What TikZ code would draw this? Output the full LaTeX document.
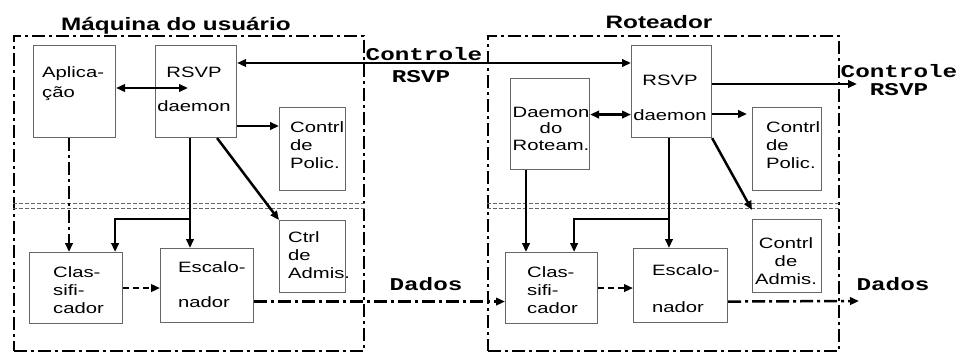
\documentclass[tikz,border=0pt]{standalone}
\usepackage{fontspec}
\usetikzlibrary{arrows.meta,calc}
\newfontfamily\bxf[FakeStretch=1.35]{Liberation Sans}
\newfontfamily\ttf[FakeStretch=1.35]{Liberation Mono}
\newcommand\mybox[5]{\node[bx,minimum width={(#4-#2)*1pt},minimum height={(#5-#3)*1pt}] (#1) at (#2,#3) {};}
\begin{document}
\begin{tikzpicture}[x=1pt,y=-1pt,
  bx/.style={draw=black!60,line width=1.1pt,anchor=north west,inner sep=0pt},
  outer/.style={draw=black,line width=2.3pt,anchor=north west,inner sep=0pt,dash pattern=on 13pt off 4pt on 3pt off 4pt},
  sep/.style={draw=black!60,line width=1pt,dash pattern=on 4pt off 2pt},
  txt/.style={font=\bxf\fontsize{15}{18}\selectfont,inner sep=0pt,align=left},
  ctxt/.style={font=\bxf\fontsize{15}{18}\selectfont,inner sep=0pt,align=center},
  tt/.style={font=\ttf\bfseries\fontsize{18}{20}\selectfont,inner sep=0pt,anchor=base},
  ttl/.style={font=\bxf\bfseries\fontsize{18}{20}\selectfont,inner sep=0pt,anchor=base},
  tip/.tip={Triangle[length=9pt,width=7.5pt]},
  arr/.style={line width=2.5pt,-tip},
  darr/.style={line width=2.5pt,tip-tip},
  dashar/.style={line width=2.5pt,-tip,dash pattern=on 6pt off 4pt},
  ddar/.style={line width=2.5pt,-tip,dash pattern=on 13pt off 4pt on 3pt off 4pt},
]
\useasboundingbox (0,0) rectangle (959,354);
% containers
\node[outer,minimum width=350pt,minimum height=315pt] (oL) at (13,35) {};
\node[outer,minimum width=351pt,minimum height=315pt] (oR) at (487,35) {};
\node[ttl] (tL) at (176,30) {Máquina do usuário};
\node[ttl] (tR) at (659,28) {Roteador};
\draw[sep] ($(oL.north west)+(0,168)$) coordinate (s1) -- (s1 -| oL.east);
\draw[sep] ($(oL.north west)+(0,173)$) coordinate (s2) -- (s2 -| oL.east);
\draw[sep] ($(oR.north west)+(0,168)$) coordinate (s3) -- (s3 -| oR.east);
\draw[sep] ($(oR.north west)+(0,173)$) coordinate (s4) -- (s4 -| oR.east);
% left boxes
\mybox{app}{33}{45}{115}{137}
\mybox{rsvpL}{155}{45}{236}{137}
\mybox{polL}{279}{107}{345}{190}
\mybox{admL}{279}{220}{345}{292}
\mybox{clsL}{29}{252}{122}{323}
\mybox{escL}{160}{248}{253}{322}
% right boxes
\mybox{rot}{510}{78}{589}{169}
\mybox{rsvpR}{631}{45}{711}{137}
\mybox{polR}{752}{107}{821}{190}
\mybox{admR}{752}{219}{821}{292}
\mybox{clsR}{505}{252}{597}{323}
\mybox{escR}{633}{248}{727}{322}
% texts left (base = baseline of the last line)
\node[txt,anchor=base west] (appT) at (42,97) {Aplica-\\[2pt]ção};
\node[ctxt,anchor=base] (rsvpLa) at (194,77) {RSVP};
\node[ctxt,anchor=base] (rsvpLb) at (194,111) {daemon};
\node[txt,anchor=base west] (polLT) at (290,168) {Contrl\\de\\Polic.};
\node[txt,anchor=base west] (admLT) at (288,278) {Ctrl\\de\\Admis.};
\node[txt,anchor=base west] (clsLT) at (53,313) {Clas-\\sifi-\\cador};
\node[txt,anchor=base west] (escLa) at (178,272) {Escalo-};
\node[txt,anchor=base west] (escLb) at (178,307) {nador};
% texts right
\node[ctxt,anchor=base,font=\bxf\fontsize{15}{16.5}\selectfont] (rotT) at (551,150) {Daemon\\do\\Roteam.};
\node[ctxt,anchor=base] (rsvpRa) at (670,85) {RSVP};
\node[ctxt,anchor=base] (rsvpRb) at (670,120) {daemon};
\node[txt,anchor=base west] (polRT) at (766,168) {Contrl\\de\\Polic.};
\node[ctxt,anchor=base] (admRT) at (786,284) {Contrl\\de\\Admis.};
\node[txt,anchor=base west] (clsRT) at (527,313) {Clas-\\sifi-\\cador};
\node[txt,anchor=base west] (escRa) at (652,275) {Escalo-};
\node[txt,anchor=base west] (escRb) at (652,312) {nador};
% labels
\node[tt] (ctl1) at (424,60) {Controle};
\node[tt] (ctl2) at (421,82) {RSVP};
\node[tt] (dad1) at (426,290) {Dados};
\node[tt] (ctl3) at (899,77) {Controle};
\node[tt] (ctl4) at (899,95) {RSVP};
\node[tt] (dad2) at (893,290) {Dados};
% connectors left
\draw[darr] ($(rsvpL.north east)+(0,18)$) coordinate (c1) -- (c1 -| rsvpR.west);
\draw[darr] ($(app.north east)+(0,43)$) -- ($(rsvpL.north west)+(33,43)$);
\draw[arr] ($(rsvpL.north east)+(0,81)$) coordinate (c3) -- (c3 -| polL.west);
\draw[arr] ($(rsvpL.south west)+(35,0)$) coordinate (c4) -- (c4 |- escL.north);
\draw[arr] ($(c4)+(0,81)$) -| ($(clsL.north east)+(-8,0)$);
\draw[arr] ($(rsvpL.south east)+(-20,0)$) -- (admL.north west);
\draw[ddar] ($(app.south west)+(36,0)$) coordinate (c6) -- (c6 |- clsL.north);
\draw[dashar] (clsL.east) -- (clsL.east -| escL.west);
\draw[ddar] ($(escL.east)+(0,16)$) coordinate (c8) -- (c8 -| clsR.west);
% connectors right
\coordinate (ctrlOut) at (857,84);
\draw[arr] (ctrlOut -| rsvpR.east) -- (ctrlOut);
\draw[darr] ($(rot.east)+(0,-9.5)$) coordinate (c11) -- (c11 -| rsvpR.west);
\draw[arr,shorten >=5pt] ($(rsvpR.north east)+(0,69)$) coordinate (c12) -- (c12 -| polR.west);
\draw[arr] ($(rsvpR.south west)+(38,0)$) coordinate (c13) -- (c13 |- escR.north);
\draw[arr] ($(c13)+(0,81)$) -| ($(clsR.north east)+(-24,0)$);
\draw[arr] ($(rot.south west)+(16,0)$) coordinate (c14) -- (c14 |- clsR.north);
\draw[arr] (rsvpR.south east) -- ($(admR.north west)+(0,-9)$);
\draw[dashar] (clsR.east) -- (clsR.east -| escR.west);
\coordinate (dOut) at (859,301);
\draw[ddar] ($(escR.east)+(0,16)$) -- (dOut);
\end{tikzpicture}
\end{document}
